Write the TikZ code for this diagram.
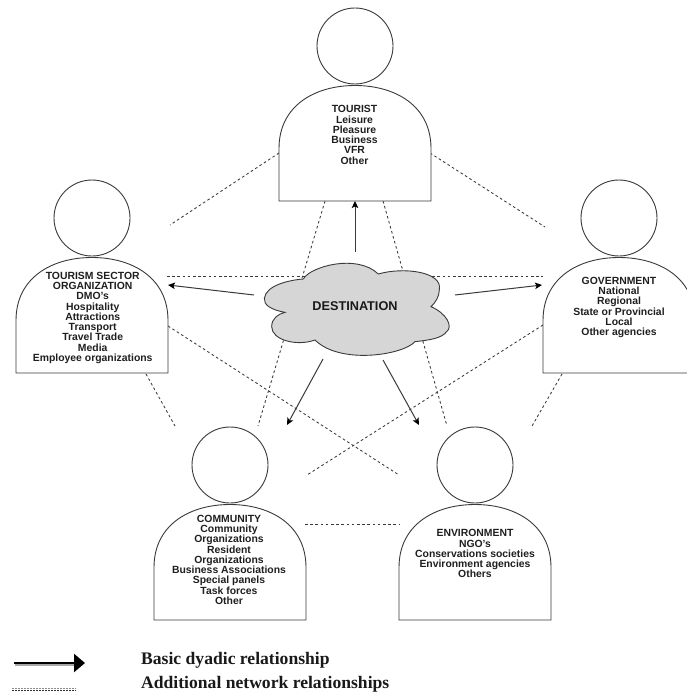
\documentclass[tikz,border=0pt]{standalone}
\usepackage{fontspec}
\setmainfont{Liberation Sans}
\newfontfamily\legendfont{Liberation Serif}
\usetikzlibrary{arrows.meta}
\definecolor{ink}{HTML}{3A3A3A}
\definecolor{cloudfill}{HTML}{D6D6D6}
\tikzset{
  figure/.style={draw=ink,line width=0.9pt,fill=white},
  dashlink/.style={draw=ink,line width=0.85pt,dash pattern=on 2.6pt off 2.6pt},
  basic/.style={draw=ink,line width=1pt,-{Stealth[length=7pt,width=6.5pt,inset=1.6pt,color=black]}},
  label/.style={font=\bfseries\fontsize{10.4}{10.25}\selectfont,align=center,anchor=north,inner sep=0pt,text=black!88},
  legendtext/.style={font=\legendfont\bfseries\fontsize{17.6}{18}\selectfont,anchor=west,inner sep=0pt,text=black!90},
}
% #1 name, #2 centre x, #3 head centre y
\newcommand{\personfig}[3]{%
  \begin{scope}[shift={(#2,#3+39.5)}]
  \draw[figure] (-76,115.5) coordinate (#1 bl) -- (-76,63)
     .. controls (-76,20) and (-40,0) .. (0,0) coordinate (#1 top)
     .. controls (40,0) and (76,20) .. (76,63)
     -- (76,115.5) coordinate (#1 br) -- cycle;
  \end{scope}
  \node[circle,figure,minimum size=76pt,inner sep=0pt] (#1 head) at (#2,#3) {};
}
\begin{document}
\begin{tikzpicture}[x=1pt,y=-1pt]
\useasboundingbox (0,0) rectangle (686,695);
\fill[white] (0,0) rectangle (686,695);
% connector end points
\coordinate (tl1) at (279,153); \coordinate (tl2) at (170,225);
\coordinate (tr1) at (430,153); \coordinate (tr2) at (545,227);
\coordinate (tc1) at (325,201); \coordinate (tc2) at (258,426);
\coordinate (te1) at (383,201); \coordinate (te2) at (447,426);
\coordinate (sg1) at (167,276); \coordinate (sg2) at (543,276);
\coordinate (se1) at (168,326); \coordinate (se2) at (399,475);
\coordinate (gc1) at (543,325); \coordinate (gc2) at (307,475);
\coordinate (sc1) at (146,374); \coordinate (sc2) at (175,426);
\coordinate (ge1) at (562,374); \coordinate (ge2) at (532,426);
\coordinate (ce1) at (305,524); \coordinate (ce2) at (399,524);
\draw[dashlink] (tl1)--(tl2);
\draw[dashlink] (tr1)--(tr2);
\draw[dashlink] (tc1)--(tc2);
\draw[dashlink] (te1)--(te2);
\draw[dashlink] (sg1)--(sg2);
\draw[dashlink] (se1)--(se2);
\draw[dashlink] (gc1)--(gc2);
\draw[dashlink] (sc1)--(sc2);
\draw[dashlink] (ge1)--(ge2);
\draw[dashlink] (ce1)--(ce2);
% people
\personfig{tourist}{355}{46}
\personfig{sector}{92}{218}
\personfig{government}{619}{218}
\personfig{community}{230}{465}
\personfig{environment}{475}{465}
\node[label] (touristtext) at (354.5,105.5) {TOURIST\\Leisure\\Pleasure\\Business\\VFR\\Other};
\node[label] (sectortext) at (92.7,272) {TOURISM SECTOR\\ORGANIZATION\\DMO's\\Hospitality\\Attractions\\Transport\\Travel Trade\\Media\\Employee organizations};
\node[label] (governmenttext) at (619,277) {GOVERNMENT\\National\\Regional\\State or Provincial\\Local\\Other agencies};
\node[label] (communitytext) at (229,515) {COMMUNITY\\Community\\Organizations\\Resident\\Organizations\\Business Associations\\Special panels\\Task forces\\Other};
\node[label] (environmenttext) at (475,529.5) {ENVIRONMENT\\NGO's\\Conservations societies\\Environment agencies\\Others};
% cloud
\begin{scope}[shift={(230,240)},x=0.3333pt,y=-0.3333pt]
\draw[figure,fill=cloudfill,line width=0.9pt]
  (220,117) .. controls (240,80) and (380,40) .. (445,102)
  .. controls (520,80) and (640,95) .. (628,150)
  .. controls (628,170) and (615,190) .. (603,200)
  .. controls (650,220) and (670,260) .. (650,275)
  .. controls (635,295) and (600,300) .. (555,305)
  .. controls (520,345) and (330,375) .. (255,300)
  .. controls (200,320) and (125,300) .. (125,260)
  .. controls (125,235) and (145,222) .. (165,217)
  .. controls (125,210) and (100,195) .. (103,175)
  .. controls (108,135) and (180,120) .. (220,117) -- cycle;
\end{scope}
\node[font=\bfseries\fontsize{12.7}{13}\selectfont,text=black!90,inner sep=0pt] (destination) at (355,306) {DESTINATION};
% basic arrows
\coordinate (aup1) at (355,252); \coordinate (aup2) at (355,201);
\coordinate (al1) at (254,295); \coordinate (al2) at (168,285);
\coordinate (ar1) at (455,295); \coordinate (ar2) at (542,285);
\coordinate (adl1) at (323,359); \coordinate (adl2) at (287,425);
\coordinate (adr1) at (383,360); \coordinate (adr2) at (419,425);
\draw[basic] (aup1)--(aup2);
\draw[basic] (al1)--(al2);
\draw[basic] (ar1)--(ar2);
\draw[basic] (adl1)--(adl2);
\draw[basic] (adr1)--(adr2);
% legend
\coordinate (l1) at (14,663); \coordinate (l2) at (85,663);
\coordinate (d1) at (12,690.5); \coordinate (d2) at (76,690.5);
\draw[line width=2pt,black!35] ([shift={(1,2.2)}]l1)--([shift={(-8,2.2)}]l2);
\draw[line width=2.4pt,black,-{Triangle[length=11pt,width=18pt]}] (l1)--(l2);
\draw[black!45,line width=.7pt,dash pattern=on 2pt off 1pt] ([yshift=1.8pt]d1)--([yshift=1.8pt]d2);
\draw[black!80,line width=.8pt,dash pattern=on 2pt off 1pt] (d1)--(d2);
\node[legendtext] (basiclabel) at (141,660.5) {Basic dyadic relationship};
\node[legendtext] (addlabel) at (141,684) {Additional network relationships};
\end{tikzpicture}
\end{document}
